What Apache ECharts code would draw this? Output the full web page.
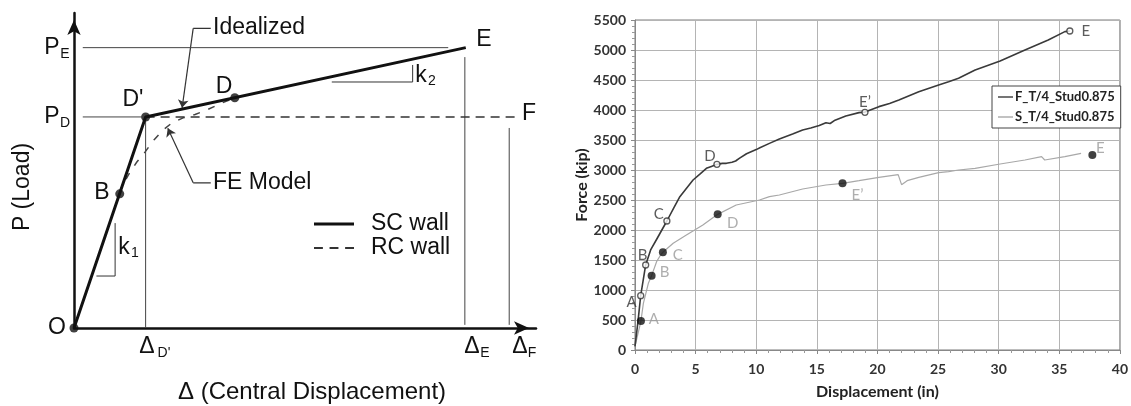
<!DOCTYPE html>
<html><head><meta charset="utf-8">
<script src="https://cdn.jsdelivr.net/npm/echarts@6/dist/echarts.min.js"></script>
<style>html,body{margin:0;padding:0;background:#fff}#c{width:1131px;height:406px}</style>
</head><body><div id="c"></div>
<script>
// ---------- Left panel: schematic (normalised units, 0-100 on both axes) ----------
const scWall   = [[0,0],[15.5,67],[84.8,89]];
const scDots   = [[0,0],[9.9,42.6],[15.5,67],[34.8,73.1]];
const rcWall   = [[15.5,67],[96.4,67]];
const feModel  = [[9.9,42.6],[10.2,44.4],[11.9,48.9],[13.6,52.7],[15.4,55.9],[17.3,59.7],[19.3,62.9],[21.2,65.1],[23.6,66.7],[26.2,67.8],[28.4,69.0],[31.8,71.3],[34.8,73.1]];
const peLine   = [[1.9,89],[81,89]];
const pdLine   = [[1.9,67],[15.5,67]];
const dDpLine  = [[15.5,67],[15.5,0]];
const dELine   = [[84.6,86],[84.6,1]];
const dFLine   = [[94.2,63.5],[94.2,1]];
const k1Tri    = [[4.85,16.5],[8.9,16.5],[8.9,33.3]];
const k2Tri    = [[55.8,78.1],[73.3,78.1],[73.3,83.5]];
const idealLeader = [[29.6,95.1],[25.8,95.1]];
const idealArrow  = [[25.8,95.1],[23.4,69.9]];
const feLeader    = [[29.6,46.1],[25.8,46.1]];
const feArrow     = [[25.8,46.1],[20.3,63.4]];

// ---------- Right panel: Force vs displacement ----------
const seriesNames = ['F_T/4_Stud0.875','S_T/4_Stud0.875'];
const fCurve = [[0,60],[0.25,480],[0.47,905],[0.88,1417],[1.29,1667],[1.8,1850],[2.63,2150],[3.2,2370],[3.7,2556],[4.3,2710],[4.79,2833],[5.4,2940],[5.89,3028],[6.3,3060],[6.76,3094],[7.2,3110],[7.54,3111],[8.0,3130],[8.3,3150],[8.6,3194],[9.2,3270],[10,3340],[10.3,3370],[11.09,3444],[11.91,3517],[13.0,3600],[13.83,3667],[14.5,3700],[15.2,3740],[15.75,3789],[16.1,3775],[16.5,3830],[17.39,3900],[18.48,3956],[18.97,3965],[20.12,4056],[21.0,4110],[21.77,4167],[23.41,4306],[25.05,4417],[25.87,4472],[26.69,4528],[28.06,4667],[30.12,4817],[32.17,5000],[34.09,5167],[35.46,5306],[35.87,5317]];
const sCurve = [[0,60],[0.3,320],[0.49,483],[0.69,778],[1.1,1111],[1.37,1239],[1.78,1472],[2.1,1580],[2.3,1628],[3.15,1778],[4.24,1917],[5.6,2083],[6.82,2261],[8.35,2417],[10.27,2500],[11.09,2556],[11.91,2583],[13.83,2683],[15.75,2750],[17.12,2778],[18.48,2822],[20.12,2878],[21.71,2922],[21.99,2756],[22.45,2822],[23.41,2878],[25.05,2956],[25.87,2972],[26.69,3000],[28.06,3028],[30.12,3100],[32.17,3167],[33.54,3222],[33.8,3167],[35.46,3222],[36.8,3278]];
const markerNames = ['A','B','C','D','E\u2019','E'];
const fMarkers = [[0.47,905],[0.88,1417],[2.63,2150],[6.76,3094],[18.97,3961],[35.87,5317]];
const sMarkers = [[0.49,483],[1.37,1239],[2.3,1628],[6.82,2261],[17.12,2778],[37.73,3250]];

// label placement (layout only)
const fLabelOffsets = [[-9,6],[-3,-10],[-8,-7],[-7,-8],[0,-10],[16,0]];
const sLabelOffsets = [[13,-2],[13,-4],[15,3],[15,9],[15,12],[8,-7]];

const chart = echarts.init(document.getElementById('c'));
const ARIAL = 'Liberation Sans, Arial, sans-serif';
const CAL = 'Lato, Open Sans, sans-serif';
const LX = 0, RX = 1;

function ref(data, extra){
  return Object.assign({type:'line', xAxisIndex:LX, yAxisIndex:LX, data:data, symbol:'none', silent:true,
    lineStyle:{color:'#444', width:1}}, extra||{});
}
function txt(x, y, text, size, align, extra){
  return Object.assign({type:'text', x:x, y:y, silent:true,
    style:{text:text, fontSize:size, fontFamily:ARIAL, fill:'#111', align:align||'center', verticalAlign:'middle'}}, extra||{});
}
const solidIcon = 'path://M0,0H40V3H0Z';
const dashIcon = 'path://M0,0H8V1.6H0Z M14,0H22V1.6H14Z M28,0H36V1.6H28Z';
const thinIcon = 'path://M0,0H15V1.4H0Z';

const option = {
  animation:false,
  backgroundColor:'#fff',
  grid:[
    {left:74, top:13, width:462, height:315, show:false},
    {left:635, top:20, width:487, height:330, show:true, borderColor:'#7a7a7a', borderWidth:1}
  ],
  xAxis:[
    {gridIndex:0, type:'value', min:0, max:100,
     axisLine:{show:true, lineStyle:{color:'#111', width:2.5}, symbol:['none','arrow'], symbolSize:[10,15], symbolOffset:[0,-7]},
     axisTick:{show:false}, axisLabel:{show:false}, splitLine:{show:false}},
    {gridIndex:1, type:'value', min:0, max:40, interval:5,
     axisLine:{show:true, lineStyle:{color:'#888', width:1}},
     axisTick:{show:true, length:4, lineStyle:{color:'#888'}},
     minorTick:{show:true, splitNumber:5, length:3, lineStyle:{color:'#999'}},
     axisLabel:{fontFamily:CAL, fontWeight:'bold', fontSize:14, color:'#333', margin:12},
     splitLine:{show:true, lineStyle:{color:'#b4b4b4', width:1}},
     name:'Displacement (in)', nameLocation:'middle', nameGap:34,
     nameTextStyle:{fontFamily:CAL, fontWeight:'bold', fontSize:16, color:'#222'}}
  ],
  yAxis:[
    {gridIndex:0, type:'value', min:0, max:100,
     axisLine:{show:true, lineStyle:{color:'#111', width:2.5}, symbol:['none','arrow'], symbolSize:[10,15], symbolOffset:[0,-7]},
     axisTick:{show:false}, axisLabel:{show:false}, splitLine:{show:false}},
    {gridIndex:1, type:'value', min:0, max:5500, interval:500,
     axisLine:{show:true, lineStyle:{color:'#888', width:1}},
     axisTick:{show:true, length:4, lineStyle:{color:'#888'}},
     minorTick:{show:true, splitNumber:5, length:3, lineStyle:{color:'#999'}},
     axisLabel:{fontFamily:CAL, fontWeight:'bold', fontSize:14, color:'#333', margin:9, formatter:(v)=>String(v)},
     splitLine:{show:true, lineStyle:{color:'#b4b4b4', width:1}},
     name:'Force (kip)', nameLocation:'middle', nameGap:45, nameRotate:90,
     nameTextStyle:{fontFamily:CAL, fontWeight:'bold', fontSize:16, color:'#222'}}
  ],
  legend:[
    {data:[{name:'SC wall', icon:solidIcon},{name:'RC wall', icon:dashIcon}], left:314, top:212, orient:'vertical', padding:0, itemGap:0,
     itemWidth:40, itemHeight:24, selectedMode:false,
     textStyle:{fontFamily:ARIAL, fontSize:23, color:'#111', lineHeight:24, padding:[0,0,0,12]}},
    {data:[{name:seriesNames[0], icon:thinIcon},{name:seriesNames[1], icon:thinIcon}], left:992, top:86, orient:'vertical', padding:[4,6,4,6], itemGap:6,
     itemWidth:15, itemHeight:14, selectedMode:false,
     backgroundColor:'#fff', borderColor:'#444', borderWidth:1,
     textStyle:{fontFamily:CAL, fontWeight:'bold', fontSize:13, color:'#222', lineHeight:14, padding:[0,0,0,-3]}}
  ],
  series:[
    // left panel reference geometry
    ref(peLine), ref(pdLine), ref(dDpLine), ref(dELine), ref(dFLine),
    ref(k1Tri, {lineStyle:{color:'#333', width:1}}), ref(k2Tri, {lineStyle:{color:'#333', width:1}}),
    ref(feModel, {lineStyle:{color:'#444', width:1.5, type:[7,9]}}),
    ref(idealLeader, {lineStyle:{color:'#333', width:1.2}}),
    ref(feLeader, {lineStyle:{color:'#333', width:1.2}}),
    {type:'lines', coordinateSystem:'cartesian2d', xAxisIndex:LX, yAxisIndex:LX, silent:true,
     symbol:['none','arrow'], symbolSize:8,
     lineStyle:{color:'#333', width:1.2, opacity:1, curveness:0},
     data:[{coords:idealArrow},{coords:feArrow}]},
    {name:'RC wall', type:'line', xAxisIndex:LX, yAxisIndex:LX, data:rcWall, symbol:'none', silent:true,
     itemStyle:{color:'#333'}, lineStyle:{color:'#333', width:1.6, type:[9,6]}},
    {name:'SC wall', type:'line', xAxisIndex:LX, yAxisIndex:LX, data:scWall, symbol:'none', silent:true,
     itemStyle:{color:'#111'}, lineStyle:{color:'#111', width:3}},
    {type:'scatter', xAxisIndex:LX, yAxisIndex:LX, data:scDots, symbolSize:9, silent:true,
     itemStyle:{color:'#111'}},
    // right panel
    {name:seriesNames[1], type:'line', xAxisIndex:RX, yAxisIndex:RX, data:sCurve, symbol:'none', silent:true,
     itemStyle:{color:'#a8a8a8'}, lineStyle:{color:'#a8a8a8', width:1.2}},
    {name:seriesNames[0], type:'line', xAxisIndex:RX, yAxisIndex:RX, data:fCurve, symbol:'none', silent:true,
     itemStyle:{color:'#3a3a3a'}, lineStyle:{color:'#3a3a3a', width:1.6}},
    {type:'scatter', xAxisIndex:RX, yAxisIndex:RX, symbolSize:6, silent:true, z:5,
     itemStyle:{color:'#fff', borderColor:'#333', borderWidth:1.3},
     data:fMarkers.map((p,i)=>({value:p, label:{offset:fLabelOffsets[i]}})),
     label:{show:true, position:'inside', formatter:(p)=>markerNames[p.dataIndex],
            fontFamily:CAL, fontSize:15, color:'#333'}},
    {type:'scatter', xAxisIndex:RX, yAxisIndex:RX, symbolSize:8, silent:true, z:5,
     itemStyle:{color:'#111'},
     data:sMarkers.map((p,i)=>({value:p, label:{offset:sLabelOffsets[i]}})),
     label:{show:true, position:'inside', formatter:(p)=>markerNames[p.dataIndex],
            fontFamily:CAL, fontSize:15, color:'#9a9a9a'}}
  ],
  graphic:[
    txt(213, 28, 'Idealized', 23, 'left'),
    txt(213, 183, 'FE Model', 23, 'left'),
    txt(484, 40, 'E', 23), txt(224, 87, 'D', 23), txt(133, 100, "D'", 23),
    txt(102, 193, 'B', 23), txt(529, 114, 'F', 23), txt(57, 328, 'O', 23),
    txt(52, 48, 'P', 23), txt(65, 54, 'E', 14),
    txt(52, 117, 'P', 23), txt(65, 123, 'D', 14),
    txt(124, 248, 'k', 23), txt(135, 253, '1', 14),
    txt(421, 76, 'k', 23), txt(432, 81, '2', 14),
    txt(147, 347, '\u0394', 23), txt(164, 353, "D'", 14),
    txt(472, 347, '\u0394', 23), txt(485, 353, 'E', 14),
    txt(520, 347, '\u0394', 23), txt(532, 353, 'F', 14),
    txt(312, 392, '\u0394 (Central Displacement)', 24),
    txt(23, 187, 'P (Load)', 23, 'center', {rotation:Math.PI/2})
  ]
};
chart.setOption(option);
</script>
</body></html>
